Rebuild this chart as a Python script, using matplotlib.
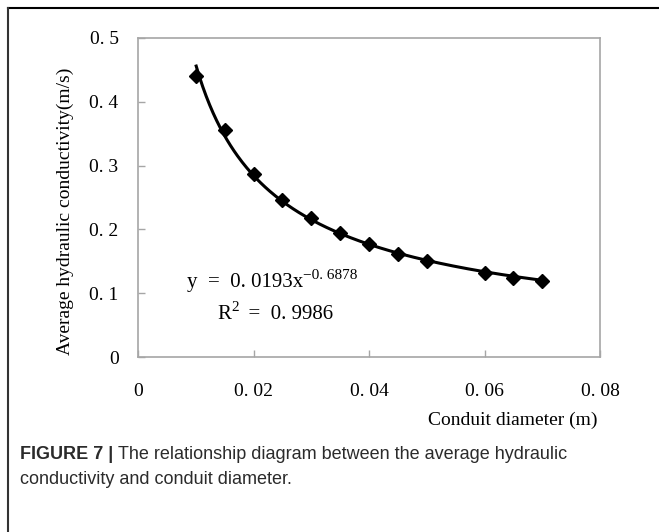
import numpy as np
import matplotlib
matplotlib.use("Agg")
import matplotlib.pyplot as plt
from matplotlib.lines import Line2D
from matplotlib.text import Annotation

# ---- data ----
diameter = [0.010, 0.015, 0.020, 0.025, 0.030, 0.035, 0.040, 0.045, 0.050, 0.060, 0.065, 0.070]
conductivity = [0.441, 0.356, 0.287, 0.246, 0.218, 0.194, 0.177, 0.161, 0.151, 0.132, 0.124, 0.119]
fit_coef = 0.0193
fit_exp = -0.6878
r_squared = 0.9986
x_ticks = [0, 0.02, 0.04, 0.06, 0.08]
x_tick_labels = ["0", "0. 02", "0. 04", "0. 06", "0. 08"]
y_ticks = [0, 0.1, 0.2, 0.3, 0.4, 0.5]
y_tick_labels = ["0", "0. 1", "0. 2", "0. 3", "0. 4", "0. 5"]
x_label = "Conduit diameter (m)"
y_label = "Average hydraulic conductivity(m/s)"
eq_main = "y  =  0. 0193x"
eq_sup = "\u22120. 6878"
r2_rest = "  =  0. 9986"
caption_bold = "FIGURE 7 | "
caption_rest_1 = "The relationship diagram between the average hydraulic"
caption_rest_2 = "conductivity and conduit diameter."

W, H = 659, 532
fig = plt.figure(figsize=(W / 100, H / 100), dpi=100)
fig.patch.set_facecolor("white")

def fx(px):
    return px / W

def fy(py):
    return 1 - py / H

L, R, T, B = 138, 600, 38, 357
ax = fig.add_axes([fx(L), fy(B), fx(R) - fx(L), fy(T) - fy(B)])

serif = "Liberation Serif"
spine_col = "#a6a6a6"

# trendline from the displayed fit
xf = np.linspace(min(diameter), max(diameter), 300)
yf = fit_coef * xf ** fit_exp
ax.plot(xf, yf, color="black", lw=2.2, zorder=2, solid_capstyle="butt")
ax.plot(diameter, conductivity, linestyle="none", marker="D", ms=7,
        color="black", zorder=3)

ax.set_xlim(0, 0.08)
ax.set_ylim(0, 0.5)
ax.set_xticks(x_ticks)
ax.set_xticklabels(x_tick_labels, fontfamily=serif, fontsize=14)
ax.set_yticks(y_ticks)
ax.set_yticklabels(y_tick_labels, fontfamily=serif, fontsize=14)
ax.tick_params(axis="both", direction="in", length=5, width=1, color=spine_col)
ax.tick_params(axis="x", pad=19)
ax.tick_params(axis="y", pad=14)
for s in ax.spines.values():
    s.set_color(spine_col)
    s.set_linewidth(1.2)

# equation text
t1 = ax.text((187 - L) / (R - L), (B - 287) / (B - T), eq_main, transform=ax.transAxes,
             fontfamily=serif, fontsize=15, ha="left", va="baseline")
ax.annotate(eq_sup, xy=(1.0, 0.55), xycoords=t1, fontfamily=serif,
            fontsize=11, ha="left", va="bottom")
t2 = ax.text((217 - L) / (R - L), (B - 319) / (B - T), "R", transform=ax.transAxes,
             fontfamily=serif, fontsize=15, ha="left", va="baseline")
t2s = ax.annotate("2", xy=(1.0, 0.55), xycoords=t2, fontfamily=serif,
                  fontsize=11, ha="left", va="bottom")
ax.annotate(r2_rest, xy=(1.0, 0.0), xycoords=(t2s, t2), fontfamily=serif,
            fontsize=15, ha="left", va="bottom")

# axis labels
fig.text(fx(598), fy(420), x_label, fontfamily=serif, fontsize=14,
         ha="right", va="center")
fig.text(fx(65), fy(211), y_label, fontfamily=serif, fontsize=14,
         ha="center", va="center", rotation=90)

# caption
cap_col = "#2b2b2b"
c1 = fig.text(fx(20), fy(459), caption_bold, fontfamily="Liberation Sans",
              fontsize=13, fontweight="bold", color=cap_col, ha="left", va="baseline")
a = Annotation(caption_rest_1, xy=(1.0, 0.0), xycoords=c1, fontfamily="Liberation Sans",
               fontsize=13, color=cap_col, ha="left", va="bottom")
fig.add_artist(a)
fig.text(fx(20), fy(484), caption_rest_2, fontfamily="Liberation Sans",
         fontsize=13, color=cap_col, ha="left", va="baseline")

# outer frame (top and left edges)
fig.add_artist(Line2D([fx(8), 1], [fy(8), fy(8)], color="black", lw=1.5,
                      transform=fig.transFigure))
fig.add_artist(Line2D([fx(8), fx(8)], [fy(8), 0], color="#333333", lw=1.5,
                      transform=fig.transFigure))

fig.savefig("out.png", dpi=100, facecolor="white")
